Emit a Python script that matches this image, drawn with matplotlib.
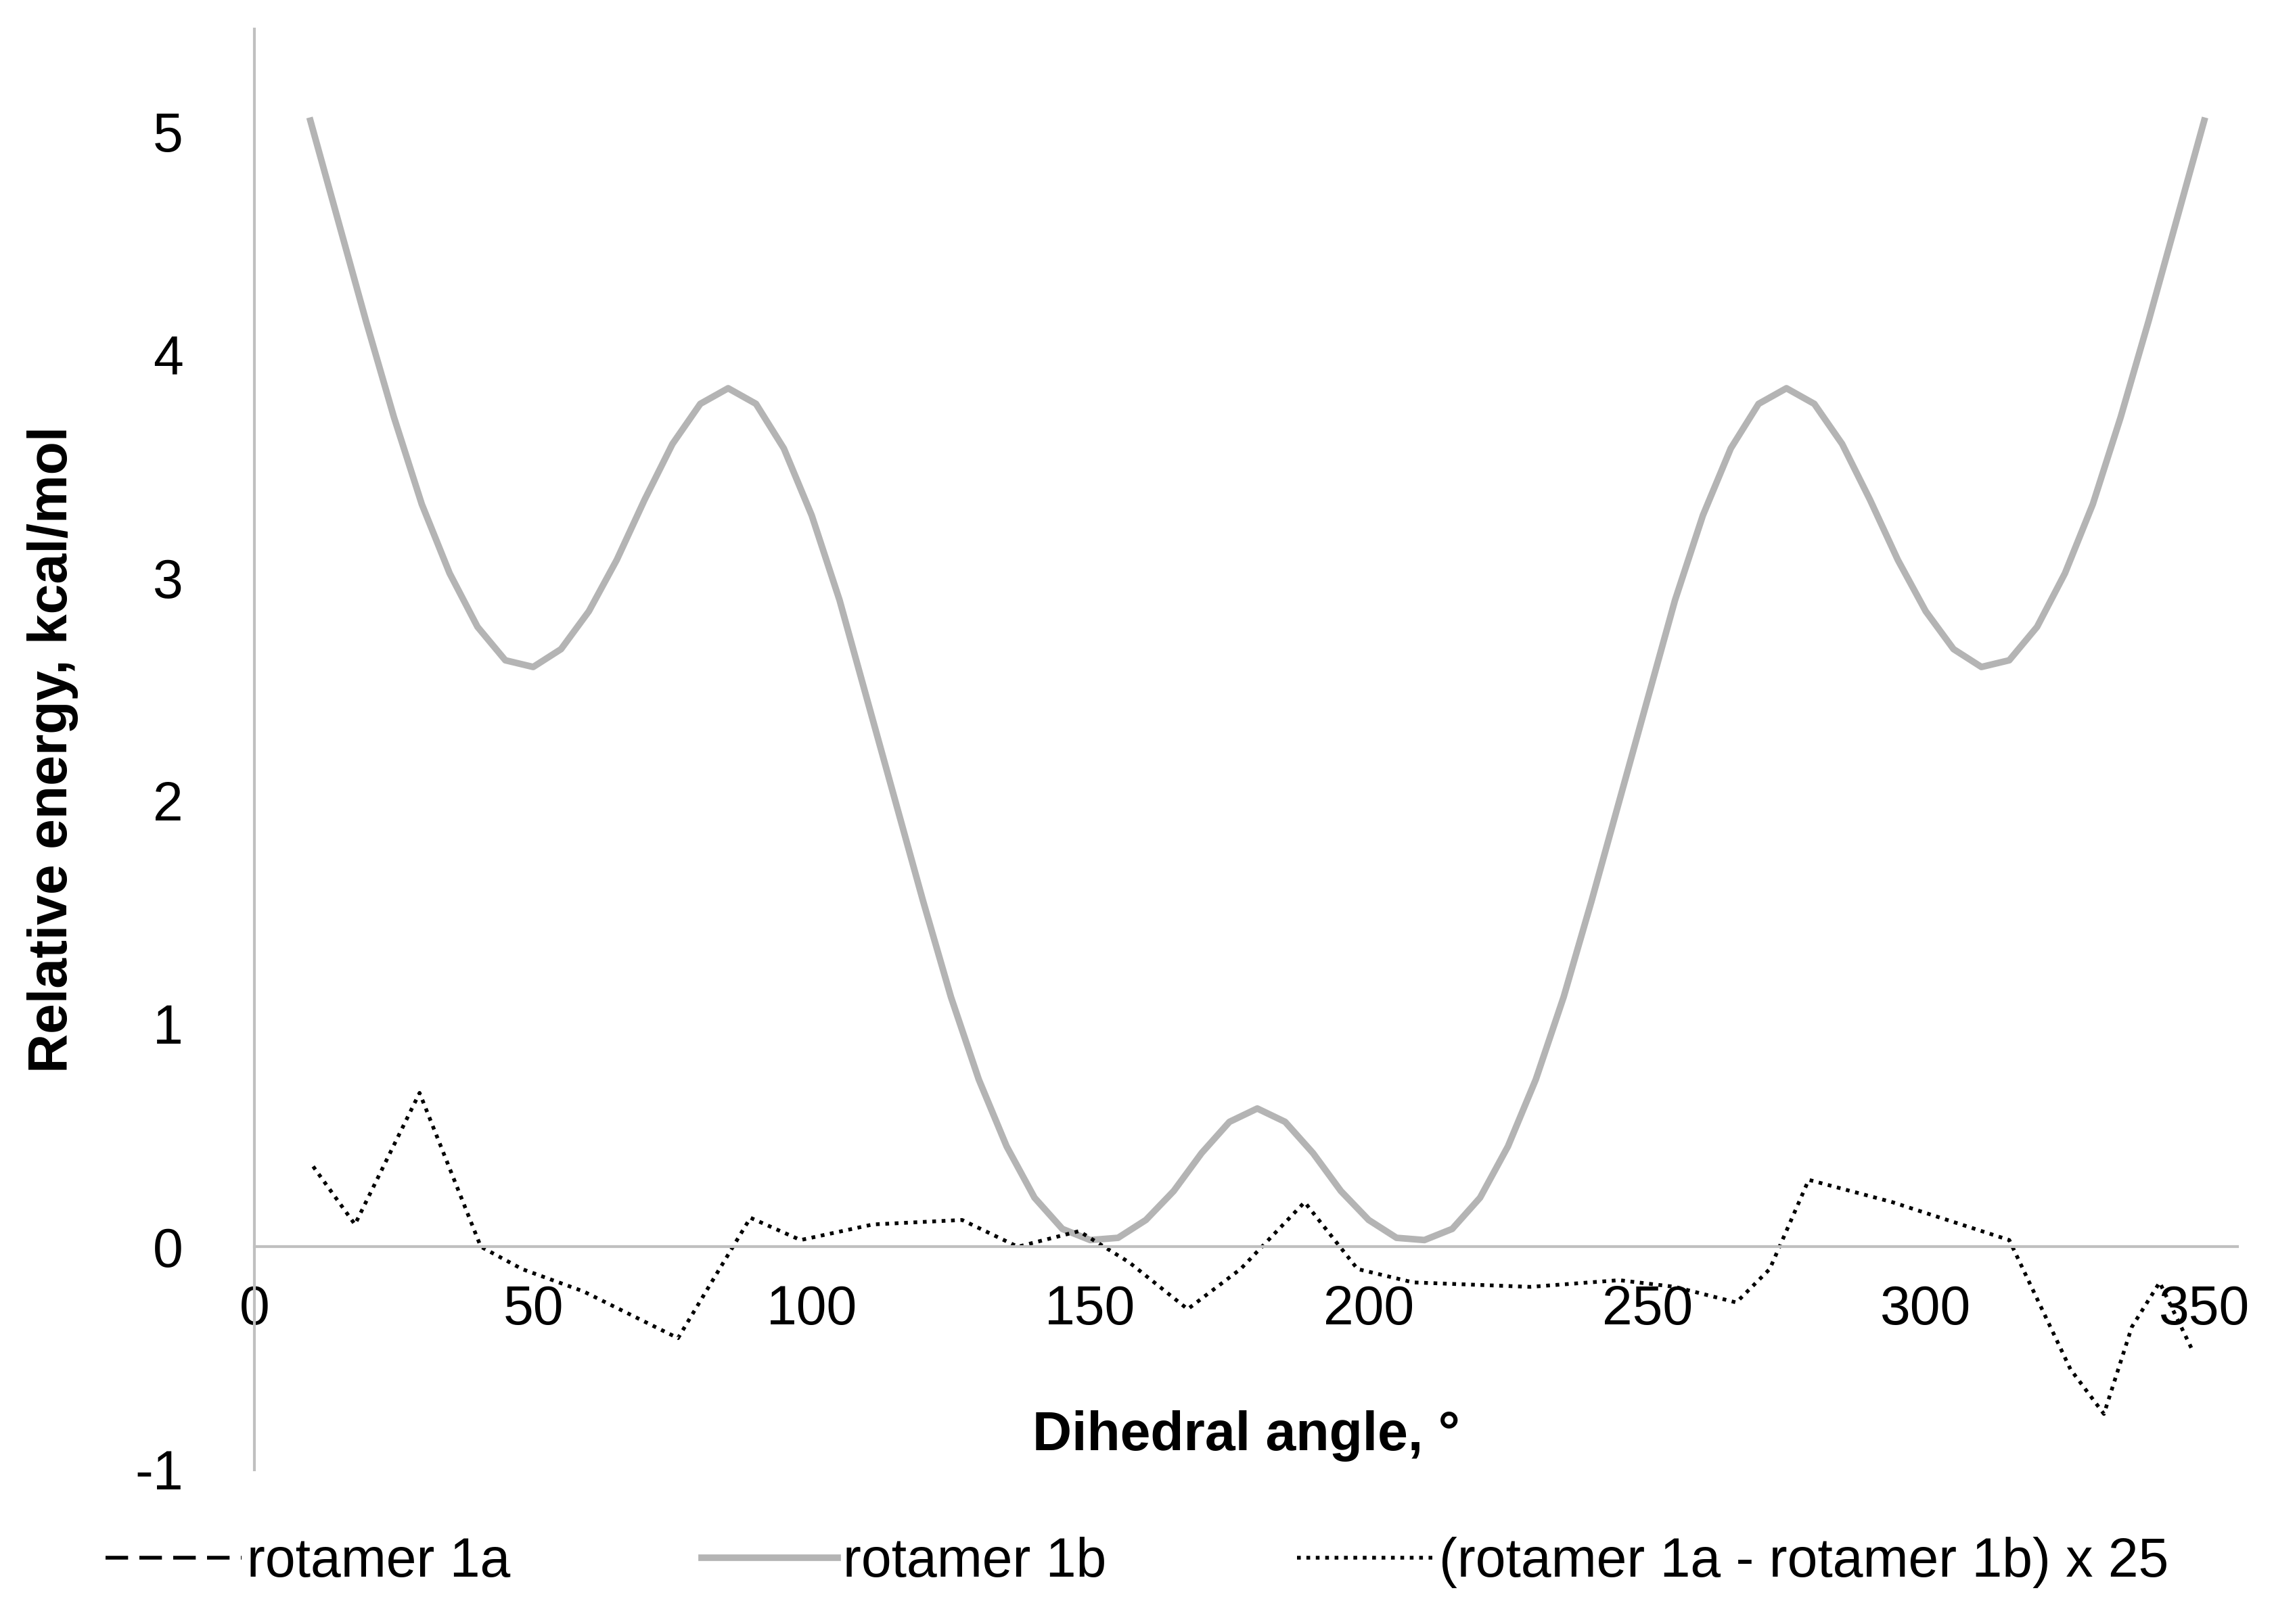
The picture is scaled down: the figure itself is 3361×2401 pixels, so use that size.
import numpy as np
import matplotlib.pyplot as plt

plt.rcParams['font.family'] = ['Liberation Sans', 'DejaVu Sans']
plt.rcParams['axes.unicode_minus'] = False

# half profile 10..180 (symmetric about 180)
half_angle = list(range(10, 185, 5))
half_energy = [5.05, 4.6, 4.15, 3.72, 3.33, 3.02, 2.78, 2.63, 2.6, 2.68, 2.85, 3.08,
               3.35, 3.6, 3.78, 3.85, 3.78, 3.58, 3.28, 2.9, 2.45, 2.0, 1.55, 1.12,
               0.75, 0.45, 0.22, 0.08, 0.03, 0.04, 0.12, 0.25, 0.42, 0.56, 0.62]
angle = half_angle + [360 - a for a in half_angle[-2::-1]]
energy_1a = half_energy + half_energy[-2::-1]
energy_1b = list(energy_1a)

diff_angle = [10.5, 18, 29.6, 40.6, 48, 59, 76, 82, 89, 98, 111, 127, 137, 148, 157,
              167.5, 177, 188.5, 198, 208, 229, 245, 255, 266, 272, 279, 294, 315,
              326, 332, 337, 342, 348]
diff_x25 = [0.36, 0.1, 0.69, 0.0, -0.1, -0.2, -0.41, -0.16, 0.13, 0.03, 0.1, 0.12, 0.0,
            0.07, -0.07, -0.28, -0.1, 0.2, -0.1, -0.16, -0.18, -0.15, -0.18, -0.25,
            -0.1, 0.3, 0.2, 0.03, -0.55, -0.75, -0.36, -0.16, -0.47]

fig = plt.figure(figsize=(16.805, 12.005), dpi=200)
ax = fig.add_axes([0.112, 0.095, 0.872, 0.887])

l1, = ax.plot(angle, energy_1a, color='black', lw=2, ls=(0, (6, 3)),
              solid_joinstyle='round', dash_joinstyle='round')
l2, = ax.plot(angle, energy_1b, color='#b4b4b4', lw=3.5,
              solid_joinstyle='round')
l3, = ax.plot(diff_angle, diff_x25, color='black', lw=2, ls=(0, (1, 1.5)),
              dash_joinstyle='round')

ax.set_xlim(0, 356)
ax.set_ylim(-1, 5.46)
ax.set_xticks(range(0, 351, 50))
ax.set_yticks(range(-1, 6))
ax.spines['bottom'].set_position(('data', 0))
for s in ['top', 'right']:
    ax.spines[s].set_visible(False)
for s in ['left', 'bottom']:
    ax.spines[s].set_color('#c0c0c0')
    ax.spines[s].set_linewidth(1.5)
ax.tick_params(length=0, labelsize=29, pad=20)
ax.tick_params(axis='y', pad=38)
ax.set_ylabel('Relative energy, kcal/mol', fontsize=29, fontweight='bold', labelpad=30)
ax.text(178, -0.85, 'Dihedral angle, °', ha='center', va='center',
        fontsize=29, fontweight='bold')

fig.legend([l1, l2, l3], ['rotamer 1a', 'rotamer 1b', '(rotamer 1a - rotamer 1b) x 25'],
           loc='lower center', bbox_to_anchor=(0.5, -0.008), ncol=3, frameon=False,
           fontsize=29, handlelength=2.5, handletextpad=0.1, columnspacing=3.5)

fig.savefig('out.png', dpi=200)
